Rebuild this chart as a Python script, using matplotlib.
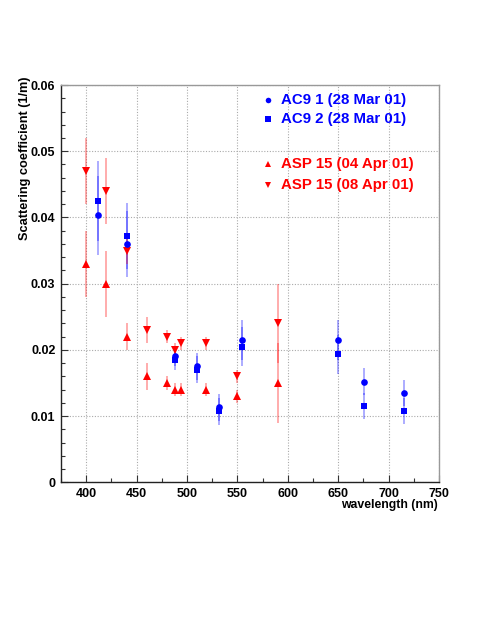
import matplotlib
matplotlib.use("agg")
from matplotlib import pyplot as plt
from matplotlib.ticker import MultipleLocator

plt.rcParams["font.family"] = ["Liberation Sans", "DejaVu Sans"]
plt.rcParams["font.weight"] = "bold"

# AC9 instrument, 28 Mar 01
ac9_wl = [412, 440, 488, 510, 532, 555, 650, 676, 715]
ac9_1 = [0.0403, 0.0360, 0.0190, 0.0175, 0.0113, 0.0215, 0.0215, 0.0152, 0.0135]
ac9_2 = [0.0425, 0.0372, 0.0185, 0.0170, 0.0107, 0.0205, 0.0193, 0.0115, 0.0108]
ac9_err = [0.006, 0.005, 0.0015, 0.002, 0.002, 0.003, 0.003, 0.002, 0.002]

# ASP 15
asp_wl = [400, 420, 440, 460, 480, 488, 494, 519, 550, 590]
asp_04 = [0.033, 0.030, 0.022, 0.016, 0.015, 0.014, 0.014, 0.014, 0.013, 0.015]
asp_08 = [0.047, 0.044, 0.035, 0.023, 0.022, 0.020, 0.021, 0.021, 0.016, 0.024]
asp_err = [0.005, 0.005, 0.002, 0.002, 0.001, 0.001, 0.001, 0.001, 0.001, 0.006]

BLUE = "#0000ff"
RED = "#ff0000"

fig = plt.figure(figsize=(4.91, 6.35), dpi=100)
ax = fig.add_axes((0.1242, 0.2405, 0.7700, 0.6256))

# error bars drawn light so that overlaps look darker
for y in (ac9_1, ac9_2):
    ax.errorbar(ac9_wl, y, yerr=ac9_err, fmt="none", ecolor=BLUE, alpha=0.35,
                elinewidth=1.3, capsize=0, zorder=2)
for y in (asp_04, asp_08):
    ax.errorbar(asp_wl, y, yerr=asp_err, fmt="none", ecolor=RED, alpha=0.35,
                elinewidth=1.3, capsize=0, zorder=2)

ax.plot(asp_wl, asp_04, "^", color=RED, ms=5.2, mew=0, zorder=3)
ax.plot(asp_wl, asp_08, "v", color=RED, ms=5.2, mew=0, zorder=3)
ax.plot(ac9_wl, ac9_1, "o", color=BLUE, ms=4.8, mew=0, zorder=4)
ax.plot(ac9_wl, ac9_2, "s", color=BLUE, ms=4.5, mew=0, zorder=4)

ax.set_xlim(375, 750)
ax.set_ylim(0, 0.06)
ax.xaxis.set_major_locator(MultipleLocator(50))
ax.xaxis.set_minor_locator(MultipleLocator(25))
ax.yaxis.set_major_locator(MultipleLocator(0.01))
ax.yaxis.set_minor_locator(MultipleLocator(0.002))
ax.yaxis.set_major_formatter(plt.FuncFormatter(lambda v, p: "0" if v == 0 else f"{v:.2f}"))

ax.tick_params(which="both", direction="in", top=False, right=False,
               labelsize=9, color="#333333")
ax.tick_params(which="major", length=5, width=0.8, pad=4)
ax.tick_params(which="minor", length=3, width=0.8)
for lab in ax.get_xticklabels() + ax.get_yticklabels():
    lab.set_fontweight("bold")

ax.grid(True, which="major", color="#aaaaaa", linestyle=(0, (1, 1.5)), linewidth=0.8)
ax.set_axisbelow(True)

for side in ("left", "bottom"):
    ax.spines[side].set_color("#222222")
    ax.spines[side].set_linewidth(1.0)
for side in ("top", "right"):
    ax.spines[side].set_color("#999999")
    ax.spines[side].set_linewidth(1.0)

fig.text(438 / 491, 1 - 505 / 635, "wavelength (nm)", ha="right", va="center",
         fontsize=8.8, fontweight="bold")
fig.text(25 / 491, 1 - 77 / 635, "Scattering coefficient (1/m)", rotation=90,
         ha="center", va="top", fontsize=9.2, fontweight="bold")

# legend written by hand, as in the original
legend_rows = [
    ("o", BLUE, "AC9 1 (28 Mar 01)", 100),
    ("s", BLUE, "AC9 2 (28 Mar 01)", 119),
    ("^", RED, "ASP 15 (04 Apr 01)", 164),
    ("v", RED, "ASP 15 (08 Apr 01)", 185),
]
for marker, col, label, ypx in legend_rows:
    yf = 1 - ypx / 635
    fig.lines.append(plt.Line2D([268 / 491], [yf], marker=marker, color=col,
                                ms=4, mew=0, transform=fig.transFigure))
    fig.text(281 / 491, yf, label, color=col, fontsize=10.8, fontweight="bold",
             ha="left", va="center")

fig.savefig("out.png", dpi=100)
